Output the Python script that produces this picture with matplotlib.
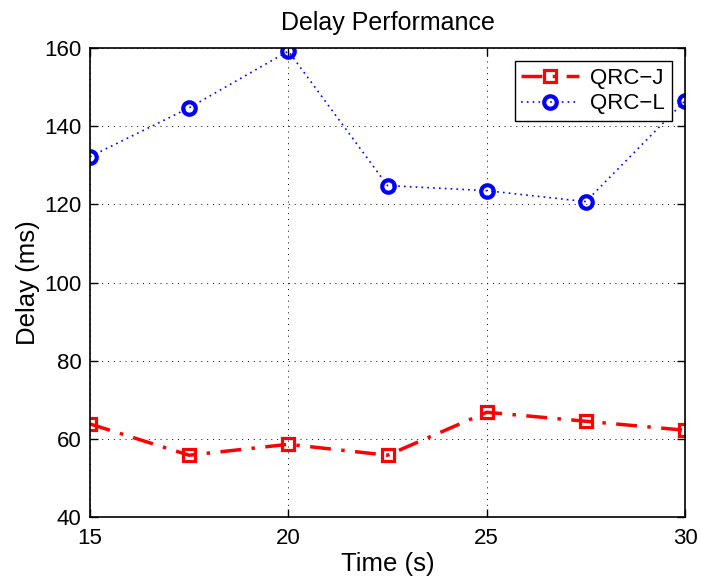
import matplotlib
matplotlib.use('Agg')
import matplotlib.pyplot as plt

plt.rcParams['font.family'] = ['Liberation Sans', 'DejaVu Sans']

time_s = [15, 17.5, 20, 22.5, 25, 27.5, 30]
qrc_j = [63.8, 55.8, 58.6, 55.8, 66.8, 64.5, 62.2]
qrc_l = [132.2, 144.7, 159.2, 124.8, 123.5, 120.7, 146.5]

fig = plt.figure(figsize=(7.01, 5.82), dpi=100)
ax = fig.add_axes([0.1284, 0.1117, 0.8488, 0.8058])

ax.plot(time_s, qrc_j, color='red', linestyle=(0, (6, 3, 1, 3)), linewidth=2.5,
        marker='s', markersize=8, markerfacecolor='none',
        markeredgewidth=2.3, label='QRC\u2212J')
ax.plot(time_s, qrc_l, color='blue', linestyle=(0, (1, 2.5)), linewidth=1.2,
        marker='o', markersize=9, markerfacecolor='none',
        markeredgewidth=3, label='QRC\u2212L')

ax.set_xlim(15, 30)
ax.set_ylim(40, 160)
ax.set_xticks([15, 20, 25, 30])
ax.set_yticks(range(40, 161, 20))
ax.grid(True, color='black', linestyle=(0, (1, 5)), linewidth=0.7)
ax.tick_params(direction='in', labelsize=16, length=6, width=1,
               top=True, right=True)
ax.tick_params(axis='x', pad=8)
ax.tick_params(axis='y', pad=6)
for s in ax.spines.values():
    s.set_linewidth(1.2)

ax.set_xlabel('Time (s)', fontsize=18.5, labelpad=2)
ax.set_ylabel('Delay (ms)', fontsize=18.5, labelpad=3)
ax.set_title('Delay Performance', fontsize=18, pad=13)

leg = ax.legend(loc='upper right', fontsize=16, fancybox=False,
                edgecolor='black', framealpha=1, handlelength=2.6,
                borderaxespad=0.6, handletextpad=0.5, borderpad=0.3,
                labelspacing=0.2)
leg.get_frame().set_linewidth(1.0)

fig.savefig('out.png', dpi=100)
